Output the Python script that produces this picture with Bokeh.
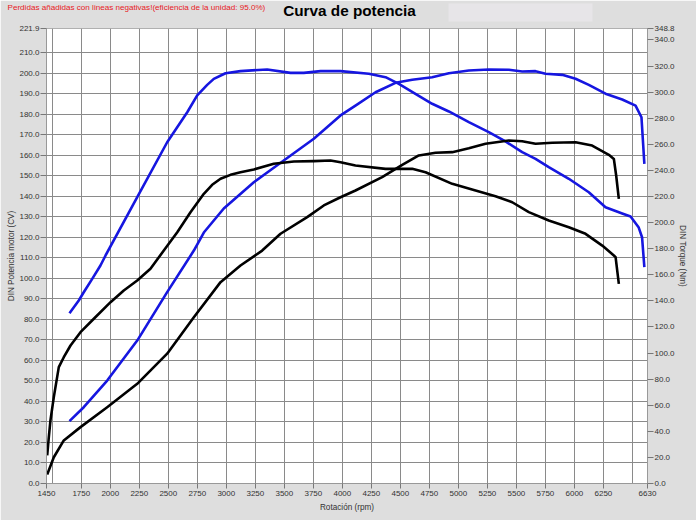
from bokeh.plotting import figure
from bokeh.models import Range1d, LinearAxis, FixedTicker, PrintfTickFormatter, Label
from bokeh.embed import file_html
from bokeh.resources import INLINE

# ---- data ----
# Blue: engine torque (Nm, right axis)
rpm_blue_torque = [1648, 1728, 1771, 1844, 1915, 1959, 2232, 2490, 2663, 2749, 2835, 2892, 2993, 3122, 3352,
                   3553, 3668, 3812, 3984, 4228, 4372, 4487, 4630, 4774, 4918, 5090, 5262, 5406, 5550,
                   5665, 5779, 5952, 6124, 6268, 6412, 6484, 6553, 6583, 6603]
nm_blue_torque = [130.5, 140.3, 146.6, 156.9, 167.1, 174.8, 219.5, 261.6, 284.6, 297.5, 305.6, 310.2, 314.5, 316.1, 317.4,
                  314.8, 314.8, 316.1, 316.1, 314.1, 311.5, 306.4, 298.7, 291.1, 285.2, 277.0, 269.3, 262.2, 254.0,
                  248.9, 242.5, 233.6, 223.3, 211.8, 207.0, 204.7, 196.5, 188.8, 165.8]
# Blue: engine power (CV, left axis)
rpm_blue_power = [1648, 1771, 1973, 2232, 2490, 2720, 2806, 2978, 3237, 3495, 3754, 3984, 4113, 4286, 4458,
                  4602, 4774, 4918, 5090, 5262, 5435, 5550, 5665, 5751, 5895, 6010, 6124, 6268, 6412,
                  6527, 6578, 6603]
cv_blue_power = [30.4, 37.2, 50.2, 69.7, 93.3, 113.6, 122.4, 134.1, 146.9, 157.5, 168.1, 179.5, 184.3, 190.8, 195.4,
                 196.9, 198.1, 200.1, 201.4, 201.9, 201.8, 200.9, 201.1, 199.8, 199.3, 197.4, 194.4, 190.1, 187.3,
                 184.3, 178.6, 155.9]
# Black: torque (Nm, right axis)
rpm_black_torque = [1456, 1470, 1484, 1513, 1556, 1599, 1657, 1743, 1858, 2002, 2116, 2232, 2346, 2461, 2577,
                    2691, 2806, 2878, 2950, 3036, 3122, 3237, 3409, 3582, 3754, 3898, 3984, 4113, 4372,
                    4602, 4717, 4947, 5148, 5320, 5464, 5607, 5779, 5952, 6096, 6240, 6340, 6355, 6383]
nm_black_torque = [21.5, 35.5, 48.3, 66.2, 89.2, 96.8, 105.8, 116.0, 126.3, 139.0, 148.0, 155.6, 164.6, 178.6, 192.6,
                   208.0, 222.1, 229.0, 233.6, 236.6, 238.6, 240.7, 245.1, 246.8, 247.1, 247.6, 246.3, 243.8, 241.2,
                   241.2, 238.6, 229.7, 224.6, 220.2, 215.6, 208.0, 201.6, 196.5, 191.4, 182.4, 174.8, 173.5, 153.1]
# Black: power (CV, left axis)
rpm_black_power = [1456, 1513, 1599, 1743, 1973, 2232, 2490, 2720, 2950, 3122, 3309, 3467, 3697, 3840, 3984,
                   4113, 4343, 4516, 4659, 4803, 4947, 5090, 5234, 5435, 5550, 5665, 5809, 6010, 6153,
                   6297, 6340, 6360, 6383]
cv_black_power = [4.4, 12.8, 21.0, 27.5, 37.2, 48.6, 63.3, 81.1, 98.2, 106.3, 113.6, 121.8, 129.9, 135.6, 139.6,
                  142.9, 149.4, 155.4, 160.0, 161.3, 161.6, 163.5, 165.7, 167.3, 166.9, 165.7, 166.2, 166.4, 164.8,
                  160.3, 158.3, 150.2, 138.8]

x_tick_values = [1450, 1750, 2000, 2250, 2500, 2750, 3000, 3250, 3500, 3750, 4000, 4250, 4500, 4750,
                 5000, 5250, 5500, 5750, 6000, 6250, 6630]
x_grid_values = list(range(1500, 6501, 250))
left_ticks = [float(v) for v in range(0, 211, 10)] + [221.9]
right_ticks = [float(v) for v in range(0, 341, 20)] + [348.8]

title_text = "Curva de potencia"
note_text = "Perdidas añadidas con lineas negativas!(eficiencia de la unidad: 95.0%)"
x_label = "Rotación (rpm)"
left_label = "DIN Potencia motor (CV)"
right_label = "DIN Torque (Nm)"

# ---- figure ----
FONT = "Liberation Sans"
BG = "#dedede"
BOXC = "#e7e5e8"
BLUE = "#1616e0"

p = figure(width=696, height=520, output_backend="svg", toolbar_location=None, title=None,
           x_range=Range1d(1450, 6630), y_range=Range1d(0, 221.9),
           min_border_left=46, min_border_right=49, min_border_top=28, min_border_bottom=37,
           x_axis_location=None, y_axis_location=None)
p.background_fill_color = "white"
p.border_fill_color = BG
p.outline_line_color = "#b0b0b0"
p.extra_y_ranges = {"nm": Range1d(0, 348.8)}

def style_axis(ax, ticks, label):
    ax.ticker = FixedTicker(ticks=ticks)
    ax.axis_label = label
    ax.axis_label_text_font = FONT
    ax.axis_label_text_font_size = "8.2px"
    ax.axis_label_text_font_style = "normal"
    ax.axis_label_text_color = "#333333"
    ax.major_label_text_font = FONT
    ax.major_label_text_font_size = "8px"
    ax.major_label_text_color = "#333333"
    ax.major_tick_out = 6
    ax.major_tick_in = 0
    ax.minor_tick_out = 0
    ax.minor_tick_in = 0
    ax.major_tick_line_color = "#777777"
    ax.axis_line_color = "#999999"
    ax.major_label_standoff = 2
    ax.axis_label_standoff = 2

xaxis = LinearAxis()
style_axis(xaxis, x_tick_values, x_label)
xaxis.major_tick_out = 5
xaxis.axis_label_standoff = 4
p.add_layout(xaxis, "below")

yleft = LinearAxis(formatter=PrintfTickFormatter(format="%.1f"))
style_axis(yleft, left_ticks, left_label)
yleft.major_label_standoff = 1
yleft.axis_label_standoff = 0
p.add_layout(yleft, "left")

yright = LinearAxis(y_range_name="nm", formatter=PrintfTickFormatter(format="%.1f"))
style_axis(yright, right_ticks, right_label)
yright.major_label_standoff = 1
yright.axis_label_standoff = 0
p.add_layout(yright, "right")

p.xgrid.ticker = FixedTicker(ticks=x_grid_values)
p.ygrid.ticker = FixedTicker(ticks=left_ticks)
for g in (p.xgrid, p.ygrid):
    g.grid_line_color = "#8a8a8a"
    g.grid_line_width = 1

LW = 2.6
p.line(rpm_blue_torque, nm_blue_torque, y_range_name="nm", line_color=BLUE, line_width=LW, line_join="round")
p.line(rpm_blue_power, cv_blue_power, line_color=BLUE, line_width=LW, line_join="round")
p.line(rpm_black_torque, nm_black_torque, y_range_name="nm", line_color="black", line_width=LW, line_join="round")
p.line(rpm_black_power, cv_black_power, line_color="black", line_width=LW, line_join="round")

# header, laid out in the "above" panel (not clipped to the frame)
PL = 46  # left edge of the above panel slot
box_lbl = Label(x=520 - PL, y=16, x_units="screen", y_units="screen", text="\u00a0" * 457,
                text_font=FONT, text_font_size="1px", text_color=BOXC,
                text_align="center", text_baseline="middle",
                background_fill_color=BOXC, border_line_color=BOXC, border_line_width=17,
                border_line_join="miter")
title_lbl = Label(x=349 - PL, y=17, x_units="screen", y_units="screen", text=title_text,
                  text_font=FONT, text_font_size="15.3px", text_font_style="bold",
                  text_align="center", text_baseline="middle", text_color="black")
note_lbl = Label(x=7 - PL, y=3, x_units="screen", y_units="screen", text=note_text,
                 text_font=FONT, text_font_size="8.1px",
                 text_align="left", text_baseline="middle", text_color="#e8201e")
p.add_layout(box_lbl, "above")
p.add_layout(title_lbl, "above")
p.add_layout(note_lbl, "above")

open("out.html", "w").write(file_html(p, INLINE))
